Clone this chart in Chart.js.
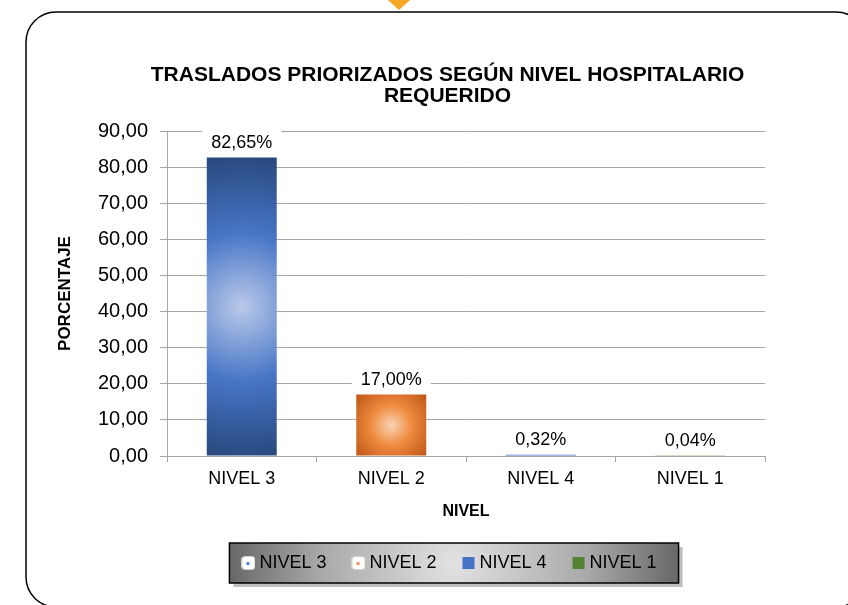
<!DOCTYPE html>
<html>
<head>
<meta charset="utf-8">
<script src="https://cdn.jsdelivr.net/npm/chart.js@4.4.1/dist/chart.umd.min.js"></script>
<style>
  html, body { margin: 0; padding: 0; background: #fff; }
  canvas { display: block; }
</style>
</head>
<body>
<canvas id="myChart" width="848" height="605"></canvas>
<script>
// data
var categories = ['NIVEL 3', 'NIVEL 2', 'NIVEL 4', 'NIVEL 1'];
var porcentajes = [82.65, 17.00, 0.32, 0.04];
var yTicks = [0, 10, 20, 30, 40, 50, 60, 70, 80, 90];
var chartTitle = ['TRASLADOS PRIORIZADOS SEGÚN NIVEL HOSPITALARIO', 'REQUERIDO'];

var FONT = "'Liberation Sans', Arial, sans-serif";

function fmt(v) {
    return v.toFixed(2).replace('.', ',');
}

// small legend markers like the excel ones
function marker(kind, color) {
    var c = document.createElement('canvas');
    c.width = 14; c.height = 14;
    var g = c.getContext('2d');
    if (kind === 'dot') {
        g.fillStyle = '#ffffff';
        g.strokeStyle = '#d0d0d0';
        g.lineWidth = 1;
        g.beginPath();
        g.roundRect(0.5, 0.5, 13, 13, 3);
        g.fill();
        g.stroke();
        g.fillStyle = color;
        g.fillRect(5, 6, 3, 3);
    } else {
        g.fillStyle = color;
        g.fillRect(1, 1, 12, 12);
    }
    return c;
}
var legendMarks = [
    marker('dot', '#5b84d6'),
    marker('dot', '#f0955a'),
    marker('sq', '#4472c4'),
    marker('sq', '#548235')
];

// radial gradients centred on each bar
function barFill(context) {
    var chart = context.chart;
    var i = context.dataIndex;
    if (!chart.chartArea || !chart.scales.x) return '#4472c4';
    var x = chart.scales.x.getPixelForValue(i);
    var yTop = chart.scales.y.getPixelForValue(porcentajes[i]);
    var yBase = chart.scales.y.getPixelForValue(0);
    var cy = (yTop + yBase) / 2;
    var h = Math.max(yBase - yTop, 1);
    var ctx = chart.ctx;
    if (i === 0) {
        var g = ctx.createRadialGradient(x, cy, 0, x, cy, h / 2);
        g.addColorStop(0, '#b9c9e9');
        g.addColorStop(0.5, '#4775c6');
        g.addColorStop(1, '#2a4a80');
        return g;
    }
    if (i === 1) {
        var g2 = ctx.createRadialGradient(x, cy, 0, x, cy, 46);
        g2.addColorStop(0, '#fad3b4');
        g2.addColorStop(0.45, '#ee8a3e');
        g2.addColorStop(1, '#bf5518');
        return g2;
    }
    if (i === 2) return '#4472c4';
    return '#548235';
}

// frame + orange arrow + legend panel
var decor = {
    id: 'decor',
    afterLayout: function (chart) {
        // title and legend sit a bit left of the plot centre in the original
        chart.titleBlock.left = 130;
        chart.titleBlock.right = 765;
        chart.legend.left = 138;
        chart.legend.right = 765;
    },
    beforeDraw: function (chart) {
        var ctx = chart.ctx;
        ctx.save();
        ctx.fillStyle = '#fff';
        ctx.fillRect(0, 0, chart.width, chart.height);
        // rounded frame
        ctx.strokeStyle = '#000';
        ctx.lineWidth = 1.5;
        ctx.beginPath();
        ctx.roundRect(26, 12, 840, 595, 30);
        ctx.stroke();
        // orange arrow at the top
        ctx.fillStyle = '#f5a623';
        ctx.beginPath();
        ctx.moveTo(388, 0);
        ctx.lineTo(410, 0);
        ctx.lineTo(399, 10);
        ctx.closePath();
        ctx.fill();
        // legend panel
        var hb = chart.legend.legendHitBoxes;
        if (hb && hb.length) {
            var l = hb[0].left - 17, r = hb[hb.length - 1].left + hb[hb.length - 1].width + 22;
            var t = hb[0].top - 11, b = hb[0].top + hb[0].height + 11;
            ctx.fillStyle = 'rgba(0,0,0,0.25)';
            ctx.fillRect(l + 4, t + 4, r - l, b - t);
            var cx = (l + r) / 2, cy = (t + b) / 2;
            var g = ctx.createRadialGradient(cx, cy, 0, cx, cy, (r - l) / 2);
            g.addColorStop(0, '#e2e2e2');
            g.addColorStop(0.6, '#a8a8a8');
            g.addColorStop(1, '#686868');
            ctx.fillStyle = g;
            ctx.fillRect(l, t, r - l, b - t);
            ctx.strokeStyle = '#000';
            ctx.lineWidth = 1.5;
            ctx.strokeRect(l, t, r - l, b - t);
        }
        ctx.restore();
    },
    afterDatasetsDraw: function (chart) {
        var ctx = chart.ctx;
        var meta = chart.getDatasetMeta(0);
        ctx.save();
        ctx.font = '18px ' + FONT;
        ctx.textAlign = 'center';
        ctx.textBaseline = 'middle';
        meta.data.forEach(function (bar, i) {
            var txt = fmt(porcentajes[i]) + '%';
            var w = ctx.measureText(txt).width + 18;
            var y = bar.y - 15;
            ctx.fillStyle = '#fff';
            ctx.fillRect(bar.x - w / 2, y - 12, w, 24);
            ctx.fillStyle = '#000';
            ctx.fillText(txt, bar.x, y);
        });
        ctx.restore();
    }
};

var ctx = document.getElementById('myChart').getContext('2d');

var chart = new Chart(ctx, {
    type: 'bar',
    data: {
        labels: categories,
        datasets: [{
            label: 'PORCENTAJE',
            data: porcentajes,
            backgroundColor: barFill,
            borderWidth: 0,
            barPercentage: 0.936,
            categoryPercentage: 0.5
        }]
    },
    options: {
        responsive: false,
        animation: false,
        layout: {
            padding: { left: 0, right: 83, top: 0, bottom: 23 }
        },
        plugins: {
            title: {
                display: true,
                text: chartTitle,
                color: '#000',
                font: { family: FONT, size: 21, weight: 'bold', lineHeight: 1.0 },
                padding: { top: 64.5, bottom: 24.5 }
            },
            legend: {
                display: true,
                position: 'bottom',
                labels: {
                    color: '#000',
                    font: { family: FONT, size: 18 },
                    usePointStyle: true,
                    pointStyleWidth: 4,
                    boxHeight: 14,
                    padding: 30,
                    generateLabels: function () {
                        return categories.map(function (c, i) {
                            return { text: c, pointStyle: legendMarks[i], fillStyle: 'transparent', strokeStyle: 'transparent', lineWidth: 0, datasetIndex: 0, index: i };
                        });
                    }
                }
            },
            tooltip: { enabled: false }
        },
        scales: {
            x: {
                grid: { drawOnChartArea: false, color: '#a6a6a6', tickLength: 6, offset: true },
                border: { color: '#a6a6a6' },
                ticks: { color: '#000', font: { family: FONT, size: 18 }, padding: 6 },
                title: {
                    display: true, text: 'NIVEL', color: '#000',
                    font: { family: FONT, size: 16, weight: 'bold' },
                    padding: { top: 0, bottom: 3 }
                },
                afterFit: function (scale) { scale.height = 68; }
            },
            y: {
                min: 0,
                max: 90,
                afterBuildTicks: function (scale) {
                    scale.ticks = yTicks.map(function (v) { return { value: v }; });
                },
                grid: { color: '#a6a6a6', tickLength: 7 },
                border: { color: '#a6a6a6' },
                ticks: {
                    color: '#000', font: { family: FONT, size: 20 }, padding: 12,
                    callback: function (v) { return fmt(v); }
                },
                title: {
                    display: true, text: 'PORCENTAJE', color: '#000',
                    font: { family: FONT, size: 17, weight: 'bold' },
                    padding: { top: 55, bottom: 0 }
                },
                afterFit: function (scale) { scale.width = 167; }
            }
        }
    },
    plugins: [decor]
});
</script>
</body>
</html>
